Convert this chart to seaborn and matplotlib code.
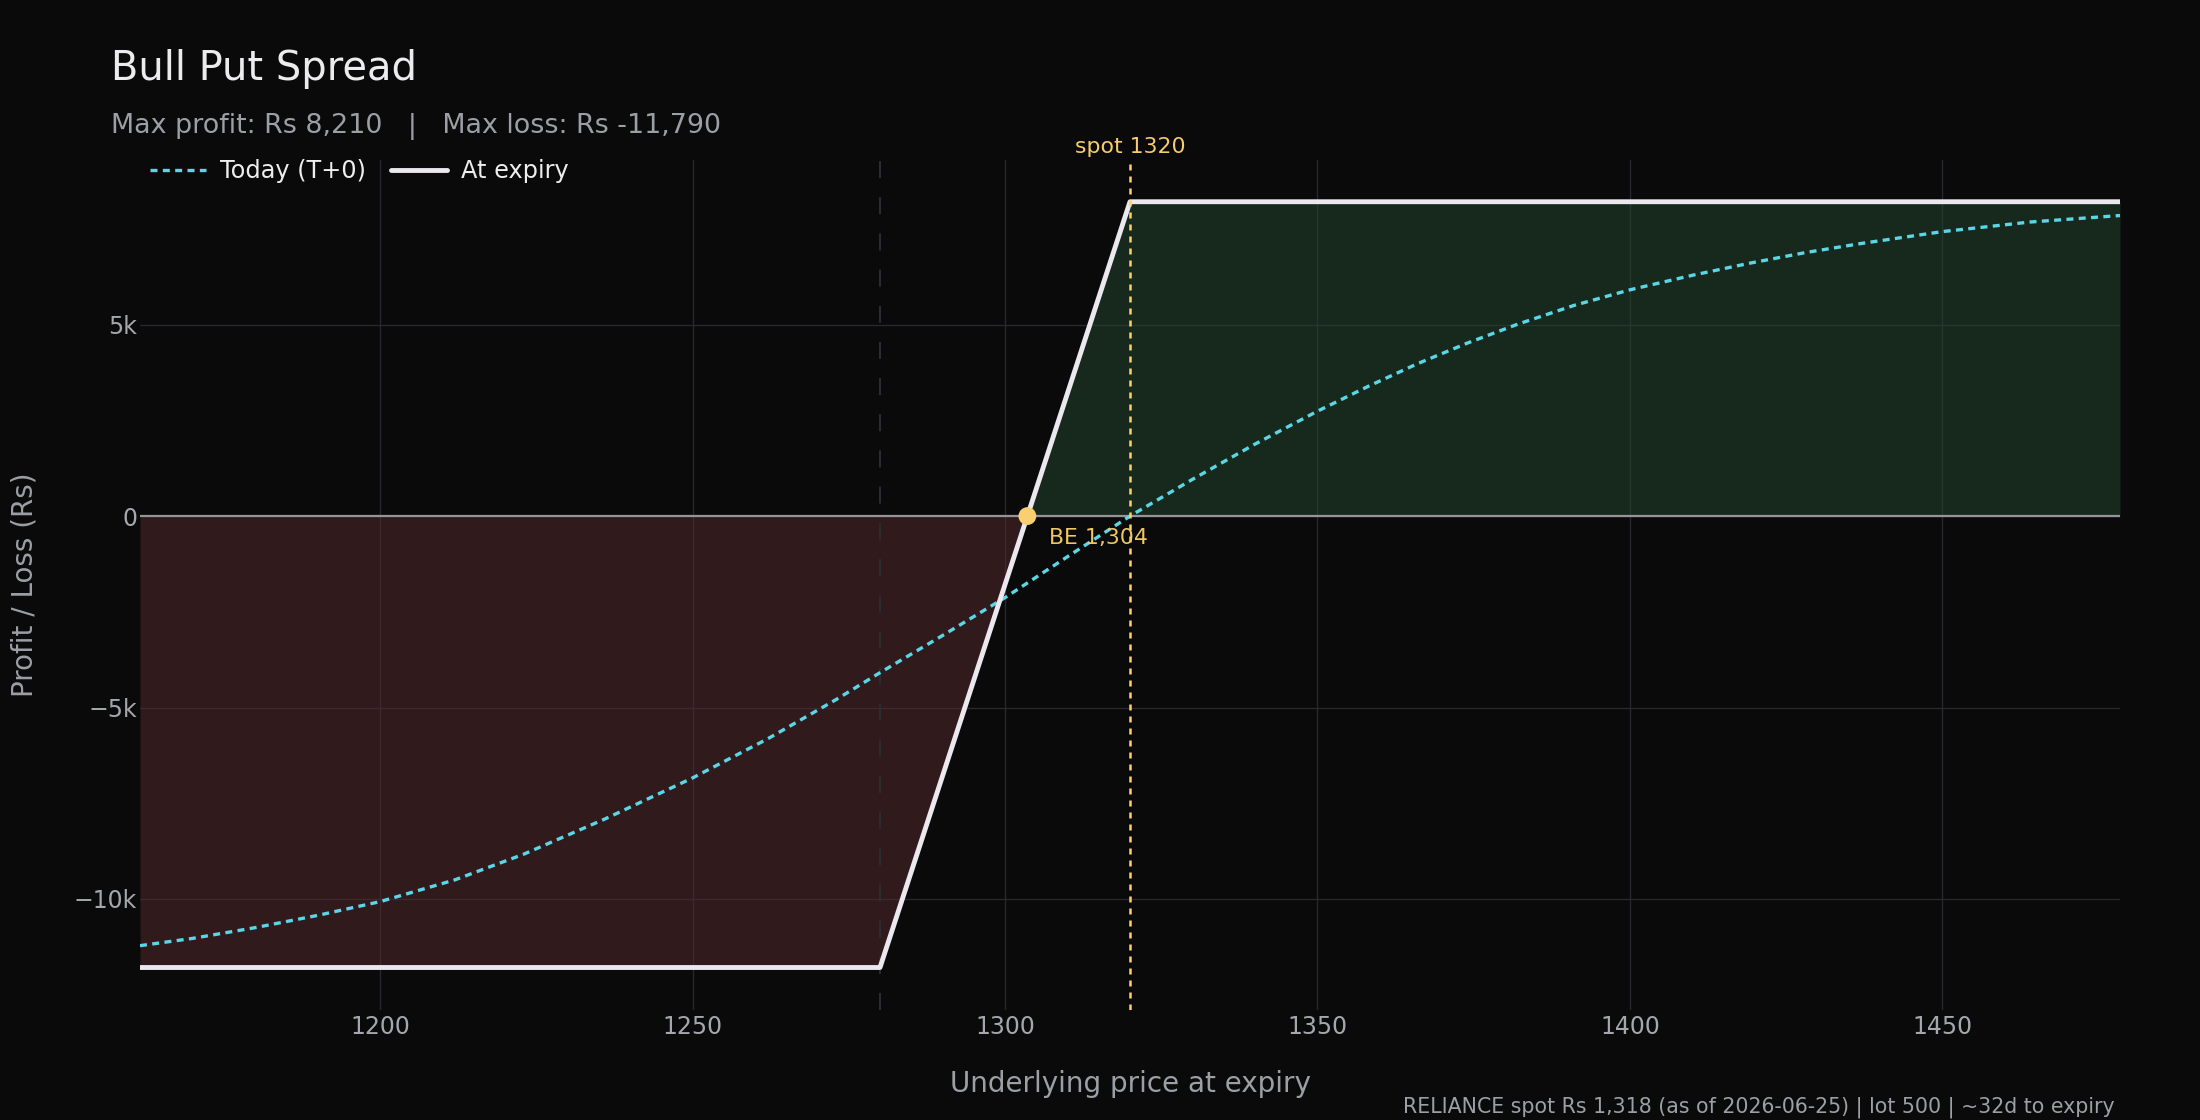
import numpy as np
import pandas as pd
import seaborn as sns
import matplotlib.pyplot as plt
from matplotlib.ticker import FuncFormatter

# bull put spread: short 1320 put, long 1280 put, lot 500
lower_strike = 1280
spot = 1320
breakeven = 1303.58

# payoff at expiry
expiry_price = [1161.6, 1280, 1303.58, 1320, 1478.4]
expiry_pnl = [-11790, -11790, 0, 8210, 8210]

# today's (T+0) value
t0_price = [1161.6, 1170, 1180, 1190, 1200, 1212, 1223, 1236, 1250, 1262, 1273,
            1280, 1290, 1300, 1310, 1320, 1330, 1340, 1350, 1358, 1366, 1374,
            1382, 1391, 1400, 1410, 1419, 1428, 1437, 1450, 1464, 1478.4]
t0_pnl = [-11220, -11030, -10750, -10430, -10070, -9500, -8830, -7910, -6840, -5820, -4790,
          -4090, -3120, -2130, -1060, 0, 960, 1880, 2740, 3380, 3980, 4520,
          5010, 5500, 5910, 6290, 6600, 6880, 7120, 7430, 7680, 7850]

x_ticks = [1200, 1250, 1300, 1350, 1400, 1450]
y_ticks = [-10000, -5000, 0, 5000]

bg = "#0a0a0a"
muted = "#9ca0a6"

sns.set_theme(style="dark")
plt.rcParams["font.family"] = ["DejaVu Sans"]
plt.rcParams["axes.unicode_minus"] = True

fig = plt.figure(figsize=(22, 11.2), dpi=100, facecolor=bg)
W, H = 2200, 1120
ax = fig.add_axes([140 / W, 1 - 1010 / H, 1980 / W, 850 / H])
ax.set_facecolor(bg)

ax.set_xlim(1161.6, 1478.4)
ax.set_ylim(-12900, 9300)
ax.set_xticks(x_ticks)
ax.set_yticks(y_ticks)
ax.grid(True, color="#28282e", lw=1.0)
ax.set_axisbelow(True)
for s in ax.spines.values():
    s.set_visible(False)
ax.tick_params(length=0, colors="#a4a7ad", labelsize=17)
ax.tick_params(axis="x", pad=3.5)
ax.tick_params(axis="y", pad=2)


def k_fmt(v, pos):
    if v == 0:
        return "0"
    return f"{v / 1000:.0f}k".replace("-", "\u2212")


ax.yaxis.set_major_formatter(FuncFormatter(k_fmt))

# profit / loss shading
pnl = np.array(expiry_pnl)
ax.fill_between(expiry_price, expiry_pnl, 0, where=pnl <= 0, color="#562a2e",
                alpha=0.5, lw=0, zorder=1)
ax.fill_between(expiry_price, expiry_pnl, 0, where=pnl >= 0, color="#24482f",
                alpha=0.5, lw=0, zorder=1)

ax.axhline(0, color="#94949a", lw=1.6, zorder=2)
ax.axvline(lower_strike, color="#2c2c33", lw=1.4, linestyle=(0, (8.8, 9.8)), zorder=2)

t0 = pd.DataFrame({"price": t0_price, "pnl": t0_pnl})
exp = pd.DataFrame({"price": expiry_price, "pnl": expiry_pnl})

sns.lineplot(data=t0, x="price", y="pnl", ax=ax, color="#5ad6e6", lw=2.4,
             linestyle=(0, (2.1, 1.6)), label="Today (T+0)", zorder=3)
sns.lineplot(data=exp, x="price", y="pnl", ax=ax, color="#ebe9ef", lw=3.5,
             label="At expiry", zorder=4)

ax.axvline(spot, color="#ffd166", lw=1.8, linestyle=(0, (2.4, 2.4)), zorder=5)
ax.annotate(f"spot {spot}", xy=(spot, 1), xycoords=("data", "axes fraction"),
            xytext=(0, 7), textcoords="offset pixels", ha="center", va="baseline",
            color="#f7cc6c", fontsize=15.8)

sns.scatterplot(x=[breakeven], y=[0], ax=ax, s=165, color="#f9cf6f",
                edgecolor="none", zorder=6, legend=False)
ax.annotate(f"BE {breakeven:,.0f}", xy=(breakeven, 0), xytext=(22, -22),
            textcoords="offset pixels", ha="left", va="center",
            color="#f0c766", fontsize=15.8, zorder=7)

ax.set_xlabel("")
ax.set_ylabel("")

ax.legend(loc="center left", bbox_to_anchor=(150 / W, 1 - 171 / H),
          bbox_transform=fig.transFigure, ncol=2, frameon=False, fontsize=17.3,
          handlelength=2.33, handletextpad=0.58, columnspacing=1.04,
          borderpad=0, borderaxespad=0, labelcolor="#eeeeee")

fig.text(111 / W, 1 - 80 / H, "Bull Put Spread", fontsize=28.8, color="#ececee",
         ha="left", va="baseline")
fig.text(111 / W, 1 - 133 / H, "Max profit: Rs 8,210   |   Max loss: Rs -11,790",
         fontsize=19.4, color=muted, ha="left", va="baseline")
fig.text(1130 / W, 1 - 1092 / H, "Underlying price at expiry", fontsize=20,
         color=muted, ha="center", va="baseline")
fig.text(25 / W, 1 - 585 / H, "Profit / Loss (Rs)", fontsize=20, color=muted,
         ha="center", va="center", rotation=90)
fig.text(2115 / W, 1 - 1112 / H,
         "RELIANCE spot Rs 1,318 (as of 2026-06-25) | lot 500 | ~32d to expiry",
         fontsize=14.8, color=muted, ha="right", va="baseline")

fig.savefig("out.png", dpi=100, facecolor=bg)
